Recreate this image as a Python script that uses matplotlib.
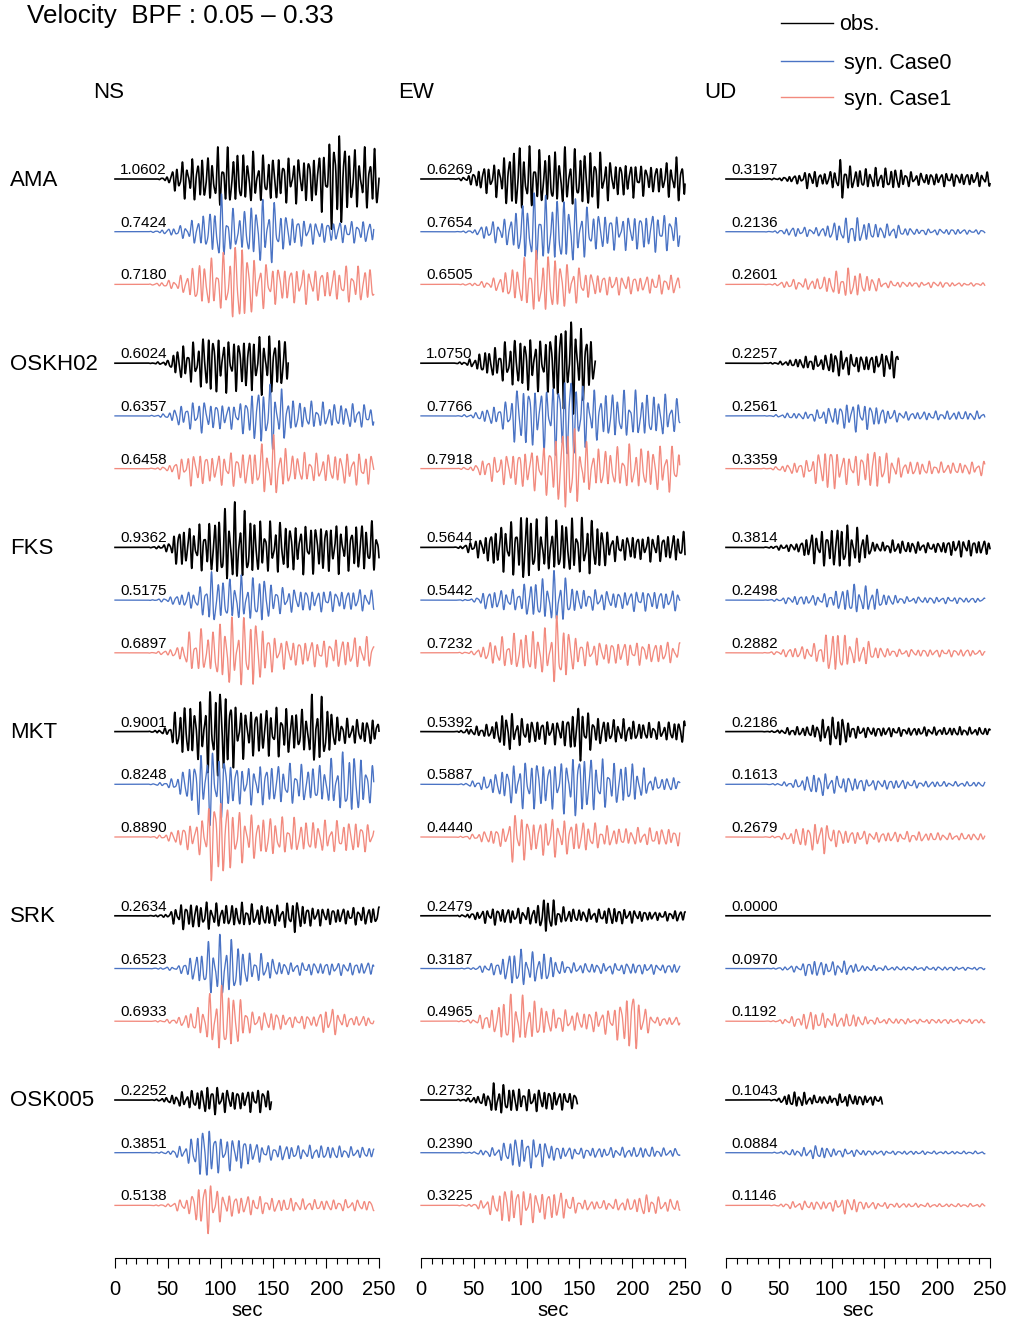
import numpy as np
import matplotlib.pyplot as plt
from matplotlib.lines import Line2D

plt.rcParams['font.family'] = ['Liberation Sans', 'DejaVu Sans']

stations = ['AMA', 'OSKH02', 'FKS', 'MKT', 'SRK', 'OSK005']
components = ['NS', 'EW', 'UD']
series = ['obs.', 'syn. Case0', 'syn. Case1']
colors = ['black', '#4a73c4', '#f28a7e']
widths = [1.2, 0.95, 0.95]

# max amplitude printed over each trace: [obs, Case0, Case1] per station
peak_ns = [[1.0602, 0.7424, 0.7180], [0.6024, 0.6357, 0.6458], [0.9362, 0.5175, 0.6897],
           [0.9001, 0.8248, 0.8890], [0.2634, 0.6523, 0.6933], [0.2252, 0.3851, 0.5138]]
peak_ew = [[0.6269, 0.7654, 0.6505], [1.0750, 0.7766, 0.7918], [0.5644, 0.5442, 0.7232],
           [0.5392, 0.5887, 0.4440], [0.2479, 0.3187, 0.4965], [0.2732, 0.2390, 0.3225]]
peak_ud = [[0.3197, 0.2136, 0.2601], [0.2257, 0.2561, 0.3359], [0.3814, 0.2498, 0.2882],
           [0.2186, 0.1613, 0.2679], [0.0000, 0.0970, 0.1192], [0.1043, 0.0884, 0.1146]]

# end of record (sec)
obs_end = {'NS': [250, 164, 250, 250, 250, 148],
           'EW': [250, 165, 250, 250, 250, 148],
           'UD': [250, 163, 250, 250, 250, 148]}
syn_end = 245

# relative envelope, every 10 s from 0 to 250 s
knot_t = np.arange(0, 251, 10)

env_ns = [
    [[0, 0, 0, 0, 0, .05, .3, .35, .4, .4, .55, .5, .45, .45, .4, .4, .4, .4, .4, .45, .6, 1, .6, .5, .55, .55],
     [0, 0, 0, 0, .03, .08, .15, .25, .45, .55, 1, .6, .55, .8, .9, .85, .5, .45, .35, .3, .3, .3, .3, .3, .3, .3],
     [0, 0, 0, 0, .03, .08, .15, .3, .5, .55, .6, .8, 1, .6, .5, .45, .4, .4, .4, .35, .35, .35, .4, .4, .4, .4]],
    [[0, 0, 0, 0, .03, .08, .5, .55, .7, 1, .8, .8, .8, .85, .9, .85, .8, 0, 0, 0, 0, 0, 0, 0, 0, 0],
     [0, 0, 0, 0, .03, .08, .3, .35, .5, .4, .4, .35, .45, .75, .85, 1, .7, .45, .4, .4, .35, .35, .35, .35, .3, .3],
     [0, 0, 0, 0, .03, .08, .3, .5, .55, .45, .5, .55, .5, .6, .8, 1, .7, .45, .5, .45, .45, .5, .5, .5, .5, .5]],
    [[0, 0, 0, 0, .03, .1, .5, .5, .55, .6, .85, 1, .9, .75, .6, .6, .65, .55, .6, .6, .6, .6, .55, .6, .6, .6],
     [0, 0, 0, 0, .03, .1, .2, .3, .4, 1, .75, .75, .8, .75, .9, .5, .45, .4, .4, .35, .4, .35, .35, .4, .35, .35],
     [0, 0, 0, 0, .03, .08, .15, .5, .6, .55, .85, .9, .9, 1, .7, .45, .4, .35, .35, .35, .35, .4, .4, .4, .4, .4]],
    [[0, 0, 0, 0, .03, .08, .5, .55, .6, .85, 1, .75, .5, .5, .5, .5, .5, .45, .45, .8, .6, .3, .25, .25, .25, .3],
     [0, 0, 0, 0, .03, .08, .25, .5, .85, 1, .9, .6, .5, .5, .55, .55, .5, .55, .5, .5, .55, .7, .9, .8, .5, .5],
     [0, 0, 0, 0, .03, .08, .2, .3, .35, .9, 1, .7, .55, .5, .45, .45, .4, .4, .35, .35, .35, .35, .35, .35, .3, .3]],
    [[0, 0, 0, 0, .05, .1, .7, .75, .7, .8, .6, .65, .7, .6, .6, .6, .6, 1, .6, .5, .5, .45, .45, .5, .5, .5],
     [0, 0, 0, 0, .02, .05, .08, .35, .5, .9, 1, .95, .7, .4, .45, .3, .2, .2, .2, .2, .2, .2, .2, .2, .2, .2],
     [0, 0, 0, 0, .02, .05, .1, .25, .4, .7, 1, .85, .6, .25, .25, .3, .2, .15, .2, .15, .4, .35, .15, .15, .15, .15]],
    [[0, 0, 0, 0, .05, .2, .45, .55, .7, 1, .8, .7, .6, .75, .75, .7, 0, 0, 0, 0, 0, 0, 0, 0, 0, 0],
     [0, 0, 0, 0, .02, .05, .2, .4, .9, 1, .6, .6, .6, .4, .3, .25, .3, .25, .25, .25, .25, .25, .2, .2, .2, .2],
     [0, 0, 0, 0, .02, .05, .2, .3, .8, 1, .5, .4, .35, .35, .3, .25, .25, .25, .2, .2, .2, .2, .2, .2, .2, .2]],
]

env_ew = [
    [[0, 0, 0, 0, .05, .2, .4, .45, .7, 1, .9, .8, .8, .8, .85, .8, .85, .8, .5, .5, .5, .45, .4, .45, .6, .7],
     [0, 0, 0, 0, .02, .05, .2, .3, .35, .6, .9, 1, .9, .95, .9, .85, .6, .5, .5, .45, .5, .5, .55, .5, .45, .45],
     [0, 0, 0, 0, .02, .05, .1, .2, .4, .6, .85, 1, .95, .9, .6, .55, .4, .35, .3, .3, .3, .25, .3, .3, .3, .3]],
    [[0, 0, 0, 0, .03, .1, .25, .3, .4, .5, .55, .5, .55, .8, 1, .8, .6, 0, 0, 0, 0, 0, 0, 0, 0, 0],
     [0, 0, 0, 0, .02, .05, .15, .2, .3, .6, .7, .6, .7, .8, 1, .7, .6, .5, .5, .5, .5, .5, .45, .45, .35, .35],
     [0, 0, 0, 0, .02, .05, .2, .25, .3, .35, .4, .4, .5, .7, 1, .6, .45, .4, .4, .4, .45, .4, .45, .45, .45, .45]],
    [[0, 0, 0, 0, .05, .2, .3, .5, .65, .7, 1, .7, .7, .7, .75, .7, .75, .6, .35, .3, .35, .3, .35, .35, .35, .4],
     [0, 0, 0, 0, .02, .05, .3, .35, .35, .35, .6, .7, .75, 1, .6, .35, .35, .35, .3, .3, .35, .35, .35, .3, .35, .35],
     [0, 0, 0, 0, .02, .05, .2, .35, .4, .5, .55, .6, .6, 1, .6, .35, .3, .3, .3, .3, .3, .3, .25, .3, .25, .25]],
    [[0, 0, 0, 0, .05, .15, .2, .3, .75, .5, .4, .4, .4, .4, .55, 1, .6, .45, .4, .4, .35, .3, .3, .3, .35, .4],
     [0, 0, 0, 0, .02, .1, .2, .3, .5, .6, .7, .75, .65, .75, .8, 1, .8, .75, .6, .65, .6, .45, .2, .2, .2, .2],
     [0, 0, 0, 0, .03, .1, .2, .3, .35, 1, .7, .5, .75, .6, .6, .55, .5, .4, .35, .3, .3, .3, .3, .3, .3, .3]],
    [[0, 0, 0, 0, .05, .15, .3, .4, .35, .35, .35, .5, 1, .4, .35, .3, .3, .3, .45, .35, .3, .25, .2, .2, .25, .25],
     [0, 0, 0, 0, .02, .05, .2, .3, .6, 1, .8, .7, .75, .35, .25, .25, .25, .25, .25, .25, .3, .25, .25, .2, .25, .25],
     [0, 0, 0, 0, .02, .05, .2, .3, .6, .6, .5, .45, .3, .25, .25, .2, .25, .25, .3, .5, .8, .4, .1, .1, .1, .1]],
    [[0, 0, 0, 0, .05, .15, .3, .8, .7, .6, .5, .55, .5, .45, .4, .35, 0, 0, 0, 0, 0, 0, 0, 0, 0, 0],
     [0, 0, 0, 0, .02, .05, .2, .3, .6, 1, .8, .9, .6, .4, .35, .3, .3, .3, .3, .3, .3, .35, .3, .25, .25, .25],
     [0, 0, 0, 0, .02, .05, .2, .35, .6, .6, .55, .45, .45, .5, .3, .2, .15, .15, .15, .2, .2, .35, .3, .2, .2, .2]],
]

env_ud = [
    [[0, 0, 0, 0, .02, .05, .15, .25, .5, .3, .4, 1, .5, .5, .5, .5, .55, .4, .3, .3, .3, .35, .3, .3, .35, .35],
     [0, 0, 0, 0, .02, .1, .3, .35, .3, .3, .6, .8, 1, .8, .55, .5, .5, .3, .2, .2, .2, .2, .2, .15, .15, .15],
     [0, 0, 0, 0, .02, .1, .3, .3, .35, .4, .7, .8, 1, .6, .5, .2, .2, .15, .15, .15, .2, .15, .1, .1, .1, .1]],
    [[0, 0, 0, 0, .02, .1, .2, .35, .5, .4, .8, .9, .6, .55, .6, .8, 1, 0, 0, 0, 0, 0, 0, 0, 0, 0],
     [0, 0, 0, 0, .02, .1, .2, .2, .3, .45, .6, .8, 1, .9, .8, .5, .4, .3, .25, .3, .3, .3, .3, .3, .3, .3],
     [0, 0, 0, 0, .02, .1, .2, .3, .4, .8, 1, .6, .6, .7, .9, .7, .5, .3, .3, .3, .25, .25, .25, .25, .3, .3]],
    [[0, 0, 0, 0, .02, .1, .15, .2, .6, .7, .8, 1, .8, .7, .2, .2, .3, .25, .25, .2, .2, .3, .35, .35, .3, .3],
     [0, 0, 0, 0, .02, .1, .25, .3, .3, .35, .5, .7, 1, .8, .8, .4, .3, .2, .2, .2, .2, .2, .2, .15, .15, .15],
     [0, 0, 0, 0, .02, .1, .2, .25, .3, .45, 1, .8, .5, .6, .3, .2, .15, .15, .15, .15, .15, .15, .15, .15, .1, .1]],
    [[0, 0, 0, 0, .02, .1, .25, .3, .35, .7, .9, 1, .4, .35, .3, .3, .3, .25, .25, .3, .25, .25, .3, .25, .25, .25],
     [0, 0, 0, 0, .02, .1, .25, .4, .8, 1, .7, .7, .6, .5, .4, .4, .4, .35, .3, .25, .25, .2, .2, .2, .2, .2],
     [0, 0, 0, 0, .02, .1, .3, .6, .7, 1, .6, .5, .35, .4, .3, .3, .3, .3, .3, .25, .25, .2, .2, .2, .2, .2]],
    [[0] * 26,
     [0, 0, 0, 0, .02, .1, .3, .4, 1, .8, .7, .8, .6, .3, .3, .25, .2, .2, .2, .2, .2, .2, .2, .15, .15, .15],
     [0, 0, 0, 0, .02, .1, .4, .5, 1, .7, .6, .6, .7, .4, .3, .25, .25, .25, .2, .2, .2, .2, .2, .2, .2, .2]],
    [[0, 0, 0, 0, .02, .2, .9, 1, .6, .5, .5, .8, .7, .6, .55, .5, 0, 0, 0, 0, 0, 0, 0, 0, 0, 0],
     [0, 0, 0, 0, .02, .1, .4, .5, .9, 1, .6, .55, .5, .4, .3, .3, .25, .25, .25, .25, .2, .2, .2, .2, .2, .2],
     [0, 0, 0, 0, .02, .1, .4, .5, .55, .5, .6, .9, 1, .5, .4, .35, .3, .25, .25, .25, .2, .2, .2, .2, .2, .2]],
]

peaks = {'NS': peak_ns, 'EW': peak_ew, 'UD': peak_ud}
envs = {'NS': env_ns, 'EW': env_ew, 'UD': env_ud}
periods = [4.8, 5.6, 5.8]

W, H = 1010, 1320
fig = plt.figure(figsize=(W / 100, H / 100), dpi=100)


def fx(px):
    return px / W


def fy(py):
    return 1 - py / H


col_left = [115, 421, 726]
for c, comp in enumerate(components):
    ax = fig.add_axes([fx(col_left[c]), fy(1258), fx(264), (1258 - 108) / H])
    ax.set_xlim(0, 250)
    ax.set_ylim(1258, 108)
    for s in ['left', 'right', 'top']:
        ax.spines[s].set_visible(False)
    ax.set_yticks([])
    ax.set_xticks(range(0, 251, 50))
    ax.set_xticks(range(0, 251, 10), minor=True)
    ax.tick_params(axis='x', which='major', length=7, width=0.8, labelsize=14.5, pad=9)
    ax.tick_params(axis='x', which='minor', length=4.5, width=0.8)
    ax.set_xlabel('sec', fontsize=14.5, labelpad=1)

    for i, st in enumerate(stations):
        for j in range(3):
            k = 18 * c + 3 * i + j
            base = 179 + 184.2 * i + 52.7 * j
            tend = obs_end[comp][i] if j == 0 else syn_end
            t = np.arange(0, tend + 0.01, 0.2)
            env = np.interp(t, knot_t, envs[comp][i][j])
            P = periods[j]
            ph = 1.7 * k
            wav = (np.sin(2 * np.pi * t / P + ph)
                   + 0.4 * np.sin(2 * np.pi * t / (0.63 * P) + 2.3 * ph)
                   + 0.3 * np.sin(2 * np.pi * t / (1.8 * P) + 0.7 * ph))
            sig = env * wav
            amp = peaks[comp][i][j]
            if np.abs(sig).max() > 0:
                sig = sig / np.abs(sig).max()
            scale = 48 * amp ** 0.8
            ax.plot(t, base - sig * scale, color=colors[j], lw=widths[j], clip_on=False)
            ax.text(5, base - 5, f'{amp:.4f}', fontsize=11, va='baseline', ha='left')

# station names
for i, st in enumerate(stations):
    fig.text(fx(10), fy(180 + 184.2 * i), st, fontsize=16, va='center', ha='left')

# component headers
for c, comp in enumerate(components):
    fig.text(fx([93, 398, 704][c]), fy(92), comp, fontsize=16, va='center', ha='left')

fig.text(fx(27), fy(16), 'Velocity  BPF : 0.05 \u2013 0.33', fontsize=18.7, va='center', ha='left')

# legend
leg_y = [23, 61, 97]
leg_tx = [839, 844, 844]
for j in range(3):
    fig.add_artist(Line2D([fx(781), fx(833)], [fy(leg_y[j]), fy(leg_y[j])],
                          color=colors[j], lw=1.0, transform=fig.transFigure))
    fig.text(fx(leg_tx[j]), fy(leg_y[j] + 2), series[j], fontsize=15.5, va='center', ha='left')

fig.savefig('out.png', dpi=100)
